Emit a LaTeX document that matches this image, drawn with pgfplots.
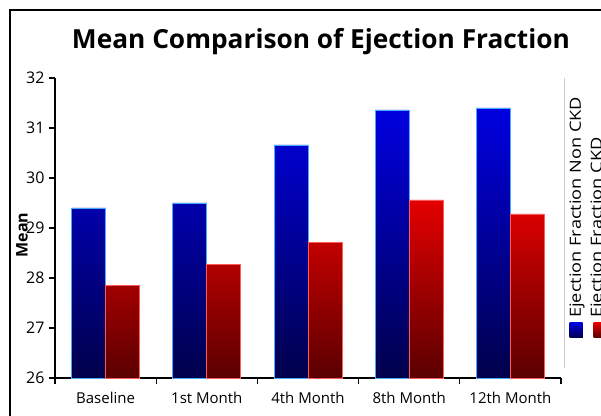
\documentclass[border=0pt]{standalone}
\usepackage{pgfplots}
\pgfplotsset{compat=1.18}
\usepackage{fontspec}
\setmainfont{Open Sans}

\definecolor{bluetop}{RGB}{0,0,225}
\definecolor{bluebot}{RGB}{0,0,75}
\definecolor{redtop}{RGB}{228,0,0}
\definecolor{redbot}{RGB}{90,0,0}
\definecolor{blueedge}{RGB}{70,170,255}
\definecolor{rededge}{RGB}{255,90,90}

\begin{document}
\begin{tikzpicture}
\path[use as bounding box] (-55pt,-37pt) rectangle (546pt,378pt);
\fill[white] (-55pt,-37pt) rectangle (546pt,378pt);
% outer frame (left and top edges of the screenshot)
\draw[black, line width=2.2pt] (-45pt,-40pt) -- (-45pt,368pt) -- (550pt,368pt);

\begin{axis}[
  at={(0pt,0pt)}, anchor=south west,
  scale only axis, width=506pt, height=300pt,
  ymin=26, ymax=32, ytick={26,27,...,32},
  xmin=-0.5, xmax=4.5,
  xtick={-0.5,0.5,...,4.5},
  x tick label as interval,
  xticklabels={Baseline,1st Month,4th Month,8th Month,12th Month},
  axis x line*=bottom, axis y line*=left,
  axis line style={-, black, line width=1.3pt},
  tick style={black, line width=1.3pt},
  tick align=outside, major tick length=6pt,
  xticklabel style={font=\fontsize{15}{15}\selectfont, yshift=-5pt},
  yticklabel style={font=\fontsize{16}{16}\selectfont, xshift=-1pt},
  /pgf/number format/assume math mode=true,
  ylabel={Mean},
  ylabel style={at={(axis description cs:-0.0652,0.477)}, anchor=center,
    font=\bfseries\fontsize{16}{16}\selectfont},
  ybar=0pt, bar width=34pt,
  clip=false,
]
\addplot[draw=blueedge, line width=0.8pt, top color=bluetop, bottom color=bluebot]
  coordinates {(0,29.40) (1,29.50) (2,30.66) (3,31.36) (4,31.40)};
\addplot[draw=rededge, line width=0.8pt, top color=redtop, bottom color=redbot]
  coordinates {(0,27.86) (1,28.28) (2,28.72) (3,29.56) (4,29.28)};
\end{axis}

% title
\node[font=\bfseries] at (266pt,336pt)
  {\resizebox{498pt}{!}{Mean Comparison of Ejection Fraction}};

% legend
\draw[gray!40, line width=0.8pt] (509pt,300pt) -- (509pt,10pt);
\fill[top color=bluetop, bottom color=bluebot] (514.5pt,40.5pt) rectangle (527.5pt,55.5pt);
\fill[top color=redtop, bottom color=redbot] (538.5pt,40.5pt) rectangle (551.5pt,55.5pt);
\node[rotate=90, anchor=west, inner sep=0pt, font=\fontsize{15.4}{15.4}\selectfont]
  at (522pt,60pt) {\scalebox{1.18}[1]{Ejection Fraction Non CKD}};
\node[rotate=90, anchor=west, inner sep=0pt, font=\fontsize{15.4}{15.4}\selectfont]
  at (543pt,60pt) {\scalebox{1.18}[1]{Ejection Fraction CKD}};
\end{tikzpicture}
\end{document}
